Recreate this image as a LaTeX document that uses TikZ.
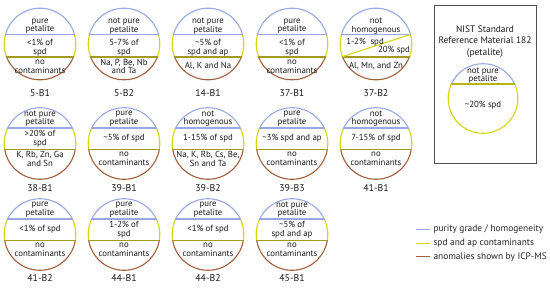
\documentclass[tikz,border=0pt]{standalone}
\usepackage{fontspec}
\setmainfont{PT Sans}
\usetikzlibrary{calc}
\definecolor{pblue}{HTML}{98A8E4}
\definecolor{pyellow}{HTML}{D9D50F}
\definecolor{pbrown}{HTML}{A0603C}
\definecolor{polive}{HTML}{A39A1E}
\definecolor{pframe}{HTML}{505050}
\newcommand{\RR}{35.8}
\newcommand{\Ycy}{0}\newcommand{\Ybo}{0}\newcommand{\Yoo}{0}
\newcommand{\Ytop}{0}\newcommand{\Ymid}{0}\newcommand{\Ybot}{0}\newcommand{\Ylab}{0}
\newcommand{\SetRow}[8]{%
  \renewcommand{\Ycy}{#1}\renewcommand{\Ybo}{#2}\renewcommand{\Yoo}{#3}%
  \renewcommand{\Ytop}{#4}\renewcommand{\Ymid}{#5}\renewcommand{\Ybot}{#6}%
  \renewcommand{\Ylab}{#7}}
\newcommand{\Disk}[6]{%
  \coordinate (#1) at (#2,\Ycy);
  \begin{scope}
    \clip (#2-40,\Ycy-40) rectangle (#2+40,\Ycy-\Ybo);
    \draw[bluearc] (#1) circle[radius=\RR];
  \end{scope}
  \begin{scope}
    \clip (#2-40,\Ycy-\Ybo) rectangle (#2+40,\Ycy+\Yoo);
    \draw[yelarc] (#1) circle[radius=\RR];
  \end{scope}
  \begin{scope}
    \clip (#2-40,\Ycy+\Yoo) rectangle (#2+40,\Ycy+40);
    \draw[brownarc] (#1) circle[radius=\RR];
  \end{scope}
  \begin{scope}
    \clip (#1) circle[radius=\RR+0.4];
    \draw[bluearc] (#2-40,\Ycy-\Ybo) -- (#2+40,\Ycy-\Ybo);
    \draw[oliveline] (#2-40,\Ycy+\Yoo) -- (#2+40,\Ycy+\Yoo);
  \end{scope}
  \node[txt] (#1-top) at ($(#1)+(0,\Ytop)$) {#3};
  \node[txt] (#1-mid) at ($(#1)+(0,\Ymid)$) {#4};
  \node[txt] (#1-bot) at ($(#1)+(0,\Ybot)$) {#5};
  \node[lab] (#1-lab) at ($(#1)+(0,\Ylab)$) {#6};
}
\begin{document}
\begin{tikzpicture}[x=1bp,y=-1bp,
  txt/.style={font=\fontsize{8.8bp}{8.6bp}\selectfont, align=center, inner sep=0pt, text=black!90},
  lab/.style={font=\fontsize{9.8bp}{10bp}\selectfont, inner sep=0pt, text=black!90},
  legtxt/.style={font=\fontsize{9.4bp}{10bp}\selectfont, inner sep=0pt, anchor=west, text=black!85},
  bluearc/.style={draw=pblue, line width=1.1bp},
  yelarc/.style={draw=pyellow, line width=1.1bp},
  brownarc/.style={draw=pbrown, line width=1.1bp},
  oliveline/.style={draw=polive, line width=1.8bp},
  legline/.style={line width=1.1bp}]
\useasboundingbox (0,0) rectangle (550,290);
\fill[white] (0,0) rectangle (550,290);
% row 1
\SetRow{44}{9.7}{12.7}{-18}{3.5}{22.5}{49.5}{}
\Disk{d1}{40}{pure\\petalite}{<1\% of\\spd}{no\\contaminants}{5-B1}
\Disk{d2}{124}{not pure\\petalite}{5-7\% of\\spd}{Na, P, Be, Nb\\and Ta}{5-B2}
\Disk{d3}{208}{not pure\\petalite}{\textasciitilde5\% of\\spd and ap}{Al, K and Na}{14-B1}
\Disk{d4}{292}{pure\\petalite}{<1\% of\\spd}{no\\contaminants}{37-B1}
\Disk{d5}{376}{not\\homogenous}{}{Al, Mn, and Zn}{37-B2}
\coordinate (d5-dl) at (342.3,56.7);
\coordinate (d5-dr) at (410.7,34.3);
\begin{scope}
  \clip (d5) circle[radius=\RR];
  \draw[yelarc] (d5-dl) -- (d5-dr);
\end{scope}
\node[txt] (d5-m1) at (365,42.5) {1-2\%\ \ spd};
\node[txt] (d5-m2) at (394,50.4) {20\% spd};
% row 2
\SetRow{143.5}{15.5}{6}{-25}{-5}{15.5}{45}{}
\Disk{d6}{40}{not pure\\petalite}{>20\% of\\spd}{K, Rb, Zn, Ga\\and Sn}{38-B1}
\Disk{d7}{124}{pure\\petalite}{\textasciitilde5\% of spd}{no\\contaminants}{39-B1}
\Disk{d8}{208}{not\\homogenous}{1-15\% of spd}{Na, K, Rb, Cs, Be,\\Sn and Ta}{39-B2}
\Disk{d9}{292}{pure\\petalite}{\textasciitilde3\% spd and ap}{no\\contaminants}{39-B3}
\Disk{d10}{376}{not\\homogenous}{7-15\% of spd}{no\\contaminants}{41-B1}
% row 3
\SetRow{234.5}{15.5}{6}{-25}{-5}{15.5}{44}{}
\Disk{d11}{40}{pure\\petalite}{<1\% of spd}{no\\contaminants}{41-B2}
\Disk{d12}{124}{pure\\petalite}{1-2\% of\\spd}{no\\contaminants}{44-B1}
\Disk{d13}{208}{pure\\petalite}{<1\% of spd}{no\\contaminants}{44-B2}
\Disk{d14}{292}{not pure\\petalite}{\textasciitilde5\% of\\spd and ap}{no\\contaminants}{45-B1}
% NIST box
\node[draw=pframe, line width=1bp, minimum width=102bp, minimum height=158bp, inner sep=0pt] (nist) at (485,84) {};
\node[txt, font=\fontsize{9.4bp}{11.5bp}\selectfont] (nist-t) at (485,41.5) {NIST Standard\\Reference Material 182\\(petalite)};
\coordinate (nc) at (483,98.5);
\begin{scope}
  \clip (440,50) rectangle (530,84);
  \draw[bluearc] (nc) circle[radius=34.8];
\end{scope}
\begin{scope}
  \clip (440,84) rectangle (530,140);
  \draw[yelarc] (nc) circle[radius=34.8];
\end{scope}
\begin{scope}
  \clip (nc) circle[radius=35.2];
  \draw[oliveline, draw=pyellow!85!black] (440,84) -- (530,84);
\end{scope}
\node[txt] (nc-top) at (483,75.5) {not pure\\petalite};
\node[txt] (nc-mid) at (483,105) {\textasciitilde20\% spd};
% legend
\coordinate (l1a) at (415.7,229.3); \coordinate (l1b) at (430,229.3);
\coordinate (l2a) at (415.7,243.3); \coordinate (l2b) at (430,243.3);
\coordinate (l3a) at (415.7,256.7); \coordinate (l3b) at (430,256.7);
\draw[legline, pblue] (l1a) -- (l1b);
\draw[legline, pyellow] (l2a) -- (l2b);
\draw[legline, pbrown] (l3a) -- (l3b);
\node[legtxt] (lt1) at (433.3,229.3) {purity grade / homogeneity};
\node[legtxt] (lt2) at (433.3,243.3) {spd and ap contaminants};
\node[legtxt] (lt3) at (433.3,256.7) {anomalies shown by ICP-MS};
\end{tikzpicture}
\end{document}
